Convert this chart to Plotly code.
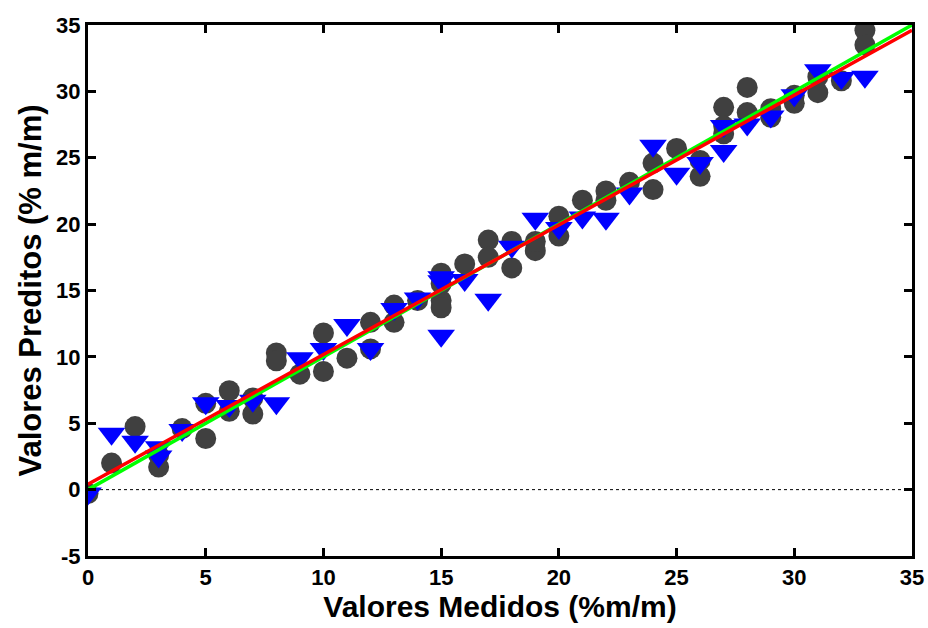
import plotly.graph_objects as go

# Calibration (gray circles)
cal_x = [0, 1, 2, 3, 3, 4, 5, 5, 6, 6, 7, 7, 8, 8, 9, 10, 10, 11, 12, 12, 13, 13, 14,
         15, 15, 15, 15, 16, 17, 17, 18, 18, 19, 19, 20, 20, 21, 22, 22, 23, 24, 24,
         25, 26, 26, 27, 27, 27, 28, 28, 29, 29, 30, 30, 31, 31, 32, 33, 33]
cal_y = [-0.3, 2.0, 4.75, 2.6, 1.7, 4.6, 3.85, 6.5, 7.45, 5.9, 5.7, 6.9, 10.3, 9.7, 8.7,
         11.8, 8.9, 9.9, 12.6, 10.6, 12.6, 13.9, 14.25, 16.3, 14.25, 13.7, 15.5, 17.0,
         18.8, 17.5, 16.7, 18.7, 18.0, 18.7, 19.1, 20.6, 21.8, 22.5, 21.8, 23.15, 22.6,
         24.6, 25.7, 23.6, 24.8, 26.8, 28.8, 27.4, 30.3, 28.4, 28.05, 28.7, 29.1, 29.7,
         29.9, 31.1, 30.8, 34.6, 33.5]

# Validation (blue triangles)
val_x = [0, 1, 2, 3, 3, 4, 5, 6, 7, 8, 9, 10, 11, 12, 13, 14, 15, 15, 15, 16, 17, 18,
         19, 20, 21, 22, 23, 24, 25, 26, 27, 27, 28, 29, 30, 31, 32, 33]
val_y = [-0.3, 4.2, 3.6, 3.2, 2.5, 4.5, 6.5, 6.3, 6.7, 6.5, 9.9, 10.6, 12.4, 10.6, 13.6,
         14.4, 11.6, 15.7, 16.0, 15.8, 14.3, 18.3, 20.4, 19.7, 20.5, 20.4, 22.3, 25.9,
         23.8, 24.6, 25.5, 27.4, 27.5, 28.1, 29.7, 31.6, 31.0, 31.1]

ideal_x = [0, 35]
ideal_y = [0, 35]
fit_x = [0, 35]
fit_y = [0.4, 34.6]
zero_x = [0, 35]
zero_y = [0, 0]

x_ticks = [0, 5, 10, 15, 20, 25, 30, 35]
y_ticks = [-5, 0, 5, 10, 15, 20, 25, 30, 35]

fig = go.Figure()
fig.add_trace(go.Scatter(x=zero_x, y=zero_y, mode="lines",
                         line=dict(color="black", width=1, dash="dot")))
fig.add_trace(go.Scatter(x=cal_x, y=cal_y, mode="markers",
                         marker=dict(symbol="circle", size=21, color="#404040")))
fig.add_trace(go.Scatter(x=val_x, y=val_y, mode="markers",
                         marker=dict(symbol="triangle-down", size=24, color="#0000ff")))
fig.add_trace(go.Scatter(x=ideal_x, y=ideal_y, mode="lines",
                         line=dict(color="#00ff00", width=3.5)))
fig.add_trace(go.Scatter(x=fit_x, y=fit_y, mode="lines",
                         line=dict(color="#ff0000", width=3.5)))

font_family = "Liberation Sans, Arial, sans-serif"
axis_common = dict(showgrid=False, zeroline=False, showline=True, linecolor="black",
                   linewidth=3, mirror="ticks", ticks="inside", ticklen=8, tickwidth=2.5,
                   tickcolor="black", automargin=False,
                   tickfont=dict(family=font_family, size=22, color="black"))

fig.update_layout(
    width=928, height=628,
    margin=dict(l=88, r=16, t=25, b=72),
    paper_bgcolor="white", plot_bgcolor="white",
    showlegend=False,
    font=dict(family=font_family, color="black"),
    xaxis=dict(range=[0, 35], tickvals=x_ticks,
               ticktext=[f"<b>{v}</b>" for v in x_ticks],
               title=dict(text="<b>Valores Medidos (%m/m)</b>",
                          font=dict(family=font_family, size=30), standoff=2),
               **axis_common),
    yaxis=dict(range=[-5, 35], tickvals=y_ticks,
               ticktext=[f"<b>{v}</b>" for v in y_ticks],
               title=dict(text="<b>Valores Preditos (% m/m)</b>",
                          font=dict(family=font_family, size=31), standoff=6),
               **axis_common),
)

fig.write_html("out.html")
